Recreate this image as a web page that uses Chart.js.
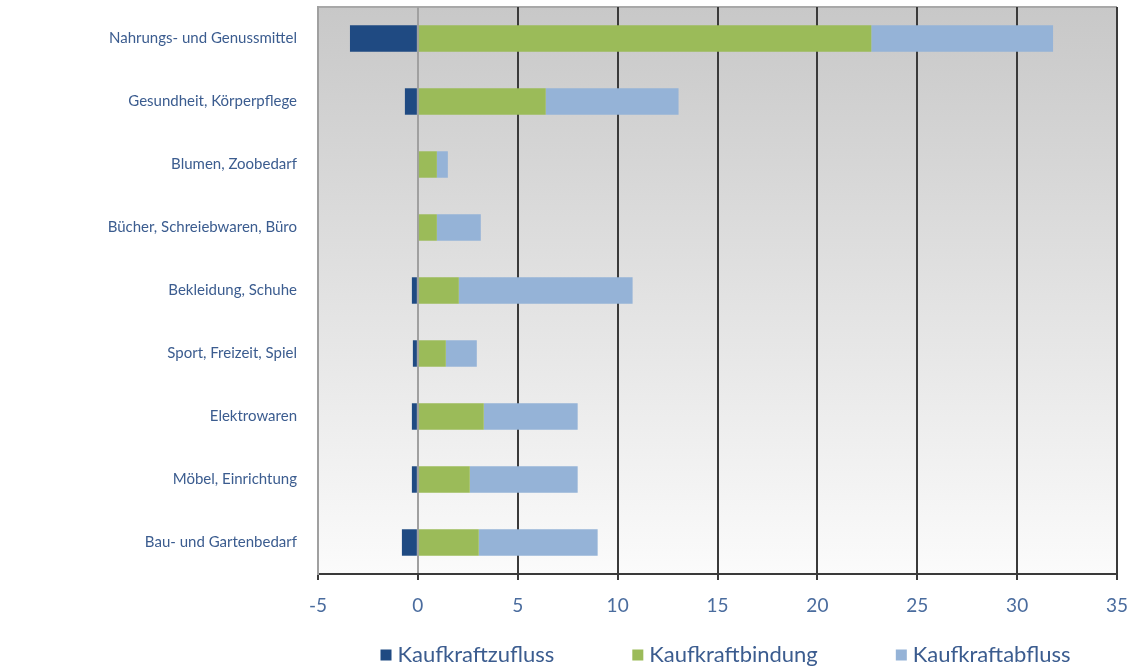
<!DOCTYPE html>
<html>
<head>
<meta charset="utf-8">
<script src="https://cdn.jsdelivr.net/npm/chart.js@4.4.1/dist/chart.umd.min.js"></script>
<style>
  html, body { margin: 0; padding: 0; background: #ffffff; }
  canvas { display: block; }
</style>
</head>
<body>
<canvas id="graficaBarras" width="1138" height="670"></canvas>
<script>
// Daten
const kategorien = [
    'Nahrungs- und Genussmittel',
    'Gesundheit, Körperpflege',
    'Blumen, Zoobedarf',
    'Bücher, Schreiebwaren, Büro',
    'Bekleidung, Schuhe',
    'Sport, Freizeit, Spiel',
    'Elektrowaren',
    'Möbel, Einrichtung',
    'Bau- und Gartenbedarf'
];
const kaufkraftzufluss = [-3.4, -0.65, 0, 0, -0.3, -0.25, -0.3, -0.3, -0.8];
const kaufkraftbindung = [22.7, 6.4, 0.95, 0.95, 2.05, 1.4, 3.3, 2.6, 3.05];
const kaufkraftabfluss = [9.1, 6.65, 0.55, 2.2, 8.7, 1.55, 4.7, 5.4, 5.95];
const achseMin = -5;
const achseMax = 35;
const achseSchritt = 5;

const farbeText = '#3b5c8f';
Chart.defaults.font.family = 'Lato, "Open Sans", sans-serif';

// Hintergrund mit Verlauf und Rahmen der Zeichenfläche
const hintergrund = {
    id: 'hintergrund',
    beforeDraw(chart) {
        const { ctx, chartArea: a } = chart;
        const g = ctx.createLinearGradient(0, a.top, 0, a.bottom);
        g.addColorStop(0, '#c8c8c8');
        g.addColorStop(1, '#fbfbfb');
        ctx.save();
        ctx.fillStyle = g;
        ctx.fillRect(a.left, a.top, a.right - a.left, a.bottom - a.top);
        ctx.strokeStyle = '#a8a8a8';
        ctx.lineWidth = 2;
        ctx.beginPath();
        ctx.moveTo(a.left, a.top);
        ctx.lineTo(a.right, a.top);
        ctx.stroke();
        ctx.restore();
    }
};

// Legende unter der Grafik, etwa mittig zur Zeichenfläche
const legende = {
    id: 'legende',
    afterDraw(chart) {
        const { ctx, chartArea: a } = chart;
        const eintraege = chart.data.datasets;
        const box = 11, abstandText = 6, abstandEintrag = 78;
        ctx.save();
        ctx.font = '22px Lato, "Open Sans", sans-serif';
        ctx.textBaseline = 'middle';
        const breiten = eintraege.map(d => ctx.measureText(d.label).width);
        const gesamt = breiten.reduce((s, b) => s + box + abstandText + b, 0) + abstandEintrag * (eintraege.length - 1);
        let x = (a.left + a.right) / 2 + 8 - gesamt / 2;
        const y = 655;
        eintraege.forEach((d, i) => {
            ctx.fillStyle = d.backgroundColor;
            ctx.fillRect(x, y - box / 2, box, box);
            x += box + abstandText;
            ctx.fillStyle = farbeText;
            ctx.fillText(d.label, x, y);
            x += breiten[i] + abstandEintrag;
        });
        ctx.restore();
    }
};

const ctx = document.getElementById('graficaBarras').getContext('2d');
const grafica = new Chart(ctx, {
    type: 'bar',
    data: {
        labels: kategorien,
        datasets: [
            { label: 'Kaufkraftzufluss', data: kaufkraftzufluss, backgroundColor: '#1f4a82' },
            { label: 'Kaufkraftbindung', data: kaufkraftbindung, backgroundColor: '#9bbb59' },
            { label: 'Kaufkraftabfluss', data: kaufkraftabfluss, backgroundColor: '#95b3d7' }
        ]
    },
    options: {
        indexAxis: 'y',
        responsive: false,
        animation: false,
        datasets: {
            bar: { categoryPercentage: 1, barPercentage: 0.42 }
        },
        layout: { padding: { left: 0, right: 21, top: 7, bottom: 0 } },
        plugins: {
            legend: { display: false },
            tooltip: { enabled: false }
        },
        scales: {
            x: {
                stacked: true,
                min: achseMin,
                max: achseMax,
                afterFit(scale) {
                    scale.height = 96;
                    scale.paddingLeft = 0;
                    scale.paddingRight = 0;
                },
                ticks: {
                    stepSize: achseSchritt,
                    color: '#4a6c9e',
                    font: { size: 19 },
                    padding: 14
                },
                grid: {
                    color: c => (c.tick && c.tick.value === 0) || c.index === 0 ? '#a0a0a0' : '#3a3a3a',
                    lineWidth: 2,
                    tickLength: 6,
                    tickColor: '#3a3a3a'
                },
                border: { color: '#3a3a3a', width: 2 }
            },
            y: {
                stacked: true,
                afterFit(scale) {
                    scale.width = 318;
                    scale.paddingTop = 0;
                    scale.paddingBottom = 0;
                },
                ticks: {
                    color: farbeText,
                    font: { size: 15 },
                    padding: 13
                },
                grid: { display: false },
                border: { display: true, color: '#a0a0a0', width: 2 }
            }
        }
    },
    plugins: [hintergrund, legende]
});
</script>
</body>
</html>
